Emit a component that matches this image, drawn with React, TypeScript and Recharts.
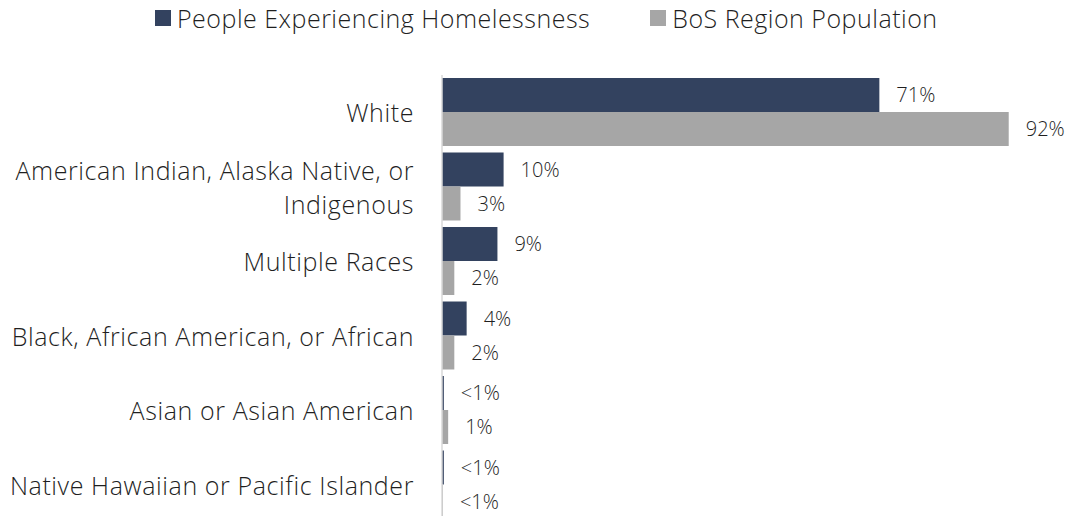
import { Bar, BarChart, LabelList, XAxis, YAxis } from "recharts";

const categories = [
  "White",
  "American Indian, Alaska Native, or Indigenous",
  "Multiple Races",
  "Black, African American, or African",
  "Asian or Asian American",
  "Native Hawaiian or Pacific Islander",
];
const homelessValues = [71, 10, 9, 4, 0.3, 0.3];
const homelessLabels = ["71%", "10%", "9%", "4%", "<1%", "<1%"];
const bosValues = [92, 3, 2, 2, 1, 0.15];
const bosLabels = ["92%", "3%", "2%", "2%", "1%", "<1%"];

const DARK = "#33425F";
const GRAY = "#A6A6A6";
const TEXT = "#1F1F1F";
const FONT = "'Open Sans', Lato, sans-serif";

const data = categories.map((name, i) => ({
  name,
  homeless: homelessValues[i],
  homelessLabel: homelessLabels[i],
  bos: bosValues[i],
  bosLabel: bosLabels[i],
}));

// split long category names onto two lines
const splitLabel = (text: string) => {
  if (text.length <= 36) return [text];
  const cut = text.lastIndexOf(" ", 36);
  return [text.slice(0, cut), text.slice(cut + 1)];
};

const CategoryTick = (props: any) => {
  const { x, y, payload } = props;
  const lines = splitLabel(payload.value);
  const lineHeight = 34;
  const startY = y - ((lines.length - 1) * lineHeight) / 2;
  return (
    <text
      x={x}
      y={startY}
      textAnchor="end"
      dominantBaseline="central"
      fill={TEXT}
      fontSize={25}
      letterSpacing={0.6}
      fontFamily={FONT}
      fontWeight={300}
    >
      {lines.map((line, i) => (
        <tspan key={i} x={x} y={startY + i * lineHeight} dominantBaseline="central">
          {line}
        </tspan>
      ))}
    </text>
  );
};

const LegendItem = ({ color, label }: { color: string; label: string }) => (
  <div style={{ display: "flex", alignItems: "center" }}>
    <span style={{ width: 16, height: 16, background: color, marginRight: 6 }} />
    <span>{label}</span>
  </div>
);

const App = () => {
  return (
    <div
      style={{
        position: "absolute",
        top: 0,
        left: 0,
        width: 1073,
        height: 516,
        overflow: "hidden",
        background: "#fff",
      }}
    >
      <div
        style={{
          position: "absolute",
          top: 1,
          left: 155,
          display: "flex",
          gap: 60,
          fontFamily: FONT,
          fontWeight: 300,
          fontSize: 25,
          letterSpacing: 0.5,
          lineHeight: "34px",
          color: TEXT,
        }}
      >
        <LegendItem color={DARK} label="People Experiencing Homelessness" />
        <LegendItem color={GRAY} label="BoS Region Population" />
      </div>
      <BarChart
        width={1073}
        height={522}
        data={data}
        layout="vertical"
        margin={{ top: 75, right: 15, bottom: 0, left: 0 }}
        barGap={0}
      >
        <XAxis type="number" domain={[0, 100]} hide />
        <YAxis
          type="category"
          dataKey="name"
          width={442}
          axisLine={{ stroke: "#D9D9D9", strokeWidth: 1.5 }}
          tickLine={false}
          tickSize={0}
          tickMargin={28}
          tick={<CategoryTick />}
          interval={0}
        />
        <Bar dataKey="homeless" fill={DARK} barSize={34} isAnimationActive={false}>
          <LabelList
            dataKey="homelessLabel"
            position="right"
            offset={17}
            fill={TEXT}
            fontSize={20}
            fontFamily={FONT}
            fontWeight={300}
          />
        </Bar>
        <Bar dataKey="bos" fill={GRAY} barSize={34} isAnimationActive={false}>
          <LabelList
            dataKey="bosLabel"
            position="right"
            offset={17}
            fill={TEXT}
            fontSize={20}
            fontFamily={FONT}
            fontWeight={300}
          />
        </Bar>
      </BarChart>
    </div>
  );
};

export default App;
